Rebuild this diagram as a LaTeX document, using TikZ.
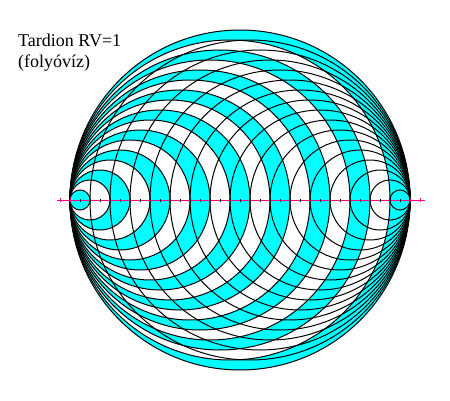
\documentclass[tikz,border=0pt]{standalone}
\usepackage{fontspec}
\setmainfont{Liberation Serif}
\definecolor{wcyan}{RGB}{0,255,255}
\definecolor{axispink}{RGB}{255,0,128}
\begin{document}
\begin{tikzpicture}[x=1pt,y=1pt,
  ring/.style={draw=black,line width=1pt},
  front/.style={draw=black,line width=1pt},
  axisline/.style={draw=axispink,line width=1pt},
  tick/.style={draw=black,line width=1pt},
  ptick/.style={draw=axispink,line width=1pt},
  label/.style={anchor=base west,inner sep=0pt,font=\fontsize{18}{21}\selectfont}]
\useasboundingbox (0,0) rectangle (450,400);
% wavefronts tangent at the left point, alternately filled
\foreach \k in {17,16,...,1}{
  \ifodd\k \def\fc{wcyan}\else\def\fc{white}\fi
  \filldraw[ring,fill=\fc] (70+10*\k,200) circle[radius=10*\k];
}
% wavefronts tangent at the right point, outlines only
\foreach \k in {16,15,...,1}{
  \draw[front] (410-10*\k,200) circle[radius=10*\k];
}
% axis
\draw[axisline] (57,200) -- (425,200);
\foreach \x in {60,70,410,420}{\draw[ptick] (\x,198) -- (\x,202);}
\foreach \x in {80,90,...,400}{\draw[tick] (\x,198.5) -- (\x,201.5);}
% labels
\node[label] (t1) at (18,353) {Tardion RV=1};
\node[label] (t2) at (18,332) {(folyóvíz)};
\end{tikzpicture}
\end{document}
